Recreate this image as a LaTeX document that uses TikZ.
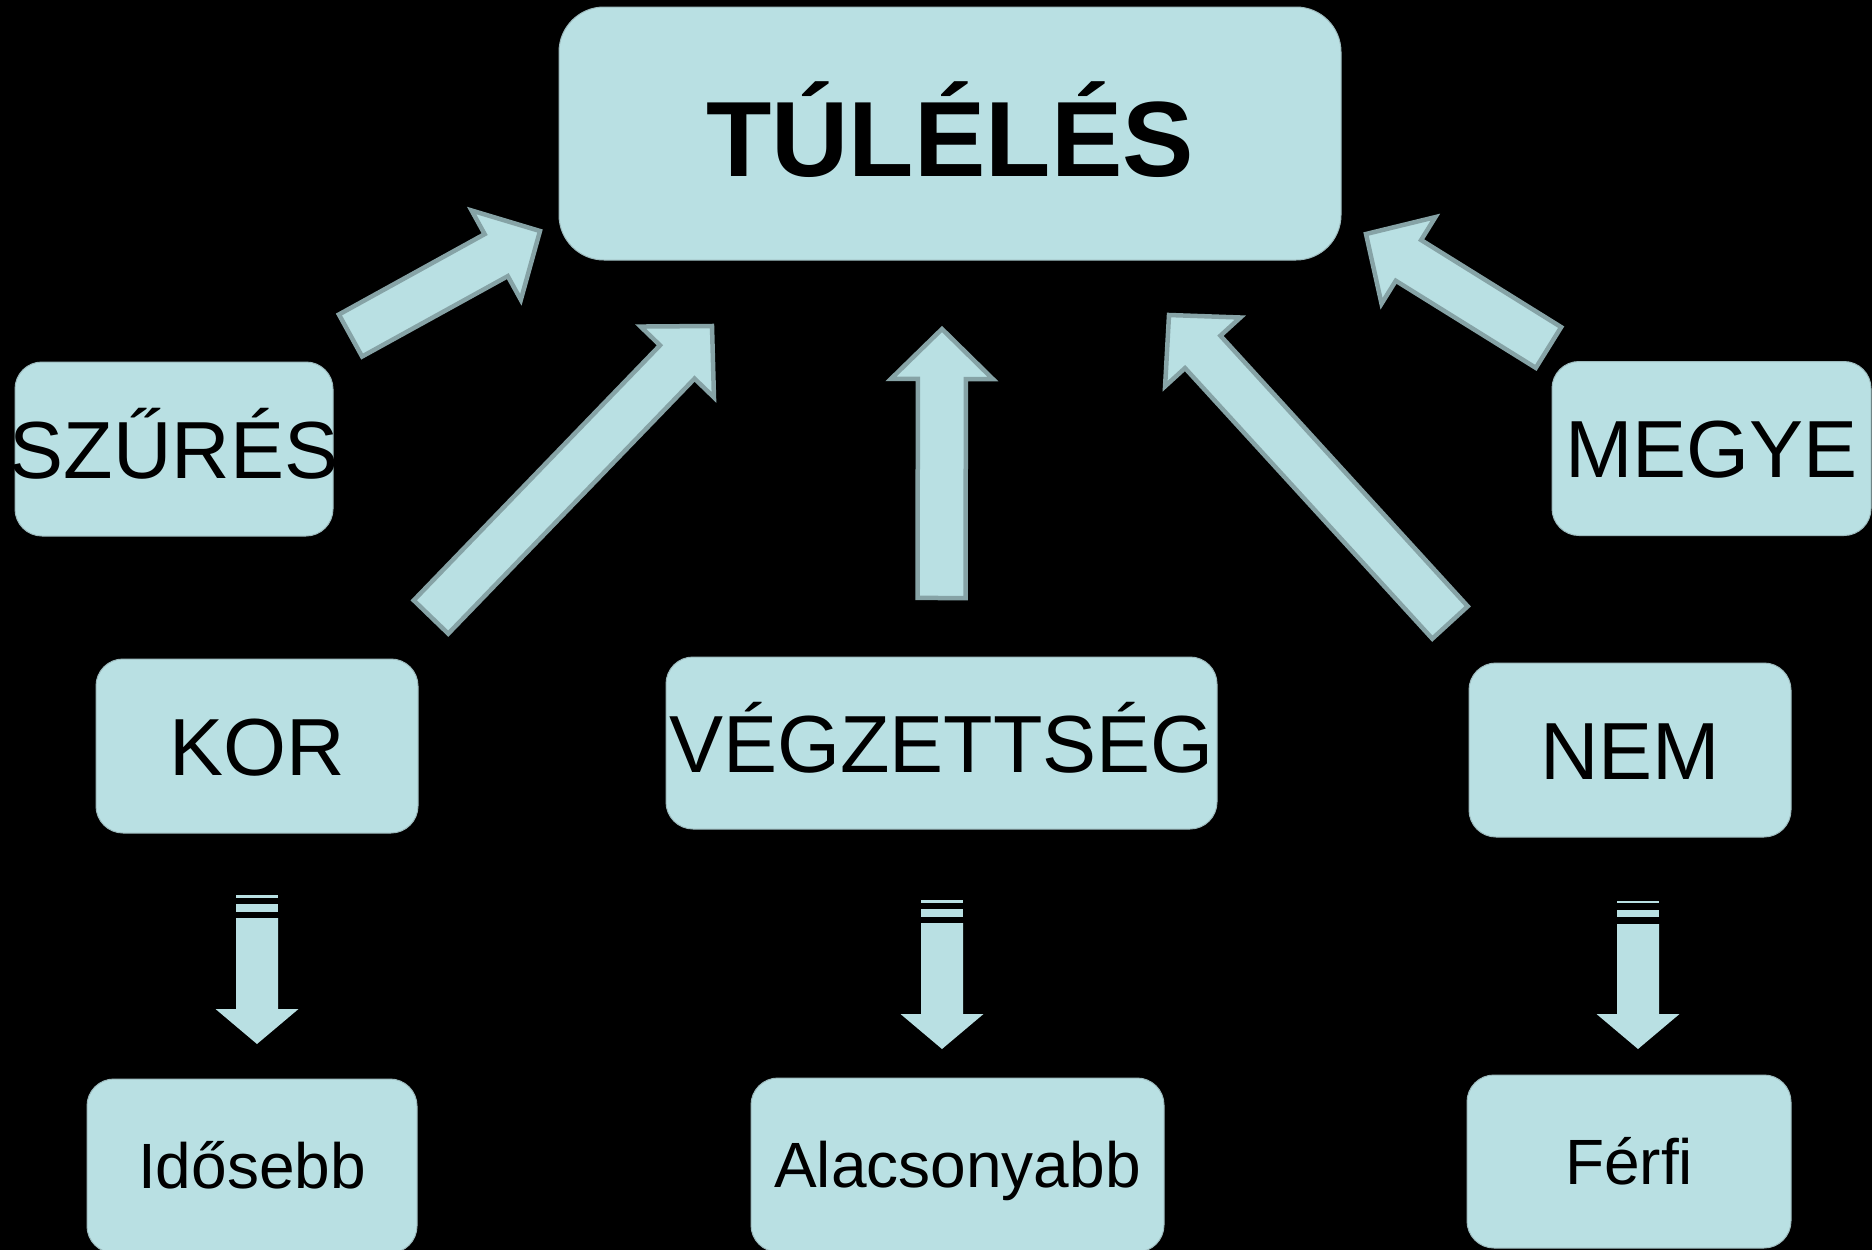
\documentclass[tikz,border=0pt]{standalone}
\usepackage{fontspec}
\setmainfont{Liberation Sans}
\usetikzlibrary{calc}
\definecolor{boxfill}{HTML}{B9E0E3}
\definecolor{arrline}{HTML}{86A3A6}
\definecolor{boxline}{HTML}{9DBBBE}
% #1 style, #2 start, #3 tip, #4 half shaft width, #5 half head width, #6 head length
\newcommand\blockarr[6]{%
  \coordinate (hb) at ($(#3)!#6pt!(#2)$);
  \draw[#1] ($(#2)!#4pt!90:(#3)$) -- ($(hb)!#4pt!90:(#3)$) -- ($(hb)!#5pt!90:(#3)$) -- (#3)
    -- ($(hb)!#5pt!-90:(#3)$) -- ($(hb)!#4pt!-90:(#3)$) -- ($(#2)!#4pt!-90:(#3)$) -- cycle;}
\begin{document}
\begin{tikzpicture}[x=1pt,y=-1pt,
  box/.style={draw=boxline, line width=1pt, fill=boxfill, rounded corners=27pt, inner sep=0pt,
    text depth=0pt, align=center},
  big/.style={font=\fontsize{81}{97}\selectfont, text height=58pt, minimum height=174pt},
  small/.style={font=\fontsize{64}{77}\selectfont, text height=45.8pt, minimum height=174pt},
  uparr/.style={fill=boxfill, draw=arrline, line width=4.5pt, line join=miter},
  downarr/.style={fill=boxfill, draw=none},
  stripe/.style={fill=boxfill, draw=none}]
\fill[black] (0,0) rectangle (1872,1250);
\useasboundingbox (0,0) rectangle (1872,1250);

% boxes
\node[box, rounded corners=45pt, minimum width=782pt, minimum height=253pt,
  font=\fontsize{107}{128}\selectfont\bfseries, text height=86.6pt] (t) at (950,133.5) {TÚLÉLÉS};
\node[box, big, minimum width=318pt] (sz) at (174,449) {\makebox[0pt][c]{SZŰRÉS}};
\node[box, big, minimum width=319pt] (me) at (1711.5,448.5) {\makebox[0pt][c]{MEGYE}};
\node[box, big, minimum width=322pt] (kor) at (257,746) {KOR};
\node[box, big, minimum width=551pt, minimum height=172pt] (veg) at (941.5,743) {\makebox[0pt][c]{VÉGZETTSÉG}};
\node[box, big, minimum width=322pt] (nem) at (1630,750) {NEM};
\node[box, small, minimum width=330pt] (ido) at (252,1166) {Idősebb};
\node[box, small, minimum width=413pt] (ala) at (957.5,1165) {Alacsonyabb};
\node[box, small, minimum width=324pt, minimum height=173pt] (fer) at (1629,1161.5) {Férfi};

% upward block arrows
\coordinate (a1s) at (350.5,335.5);  \coordinate (a1e) at (540,231);
\coordinate (a2s) at (431,617);      \coordinate (a2e) at (712,326);
\coordinate (a3s) at (941.5,598);    \coordinate (a3e) at (942,329);
\coordinate (a4s) at (1450,622.5);   \coordinate (a4e) at (1169,315);
\coordinate (a5s) at (1548.5,347.5); \coordinate (a5e) at (1366,234);
\blockarr{uparr}{a1s}{a1e}{24}{51}{50}
\blockarr{uparr}{a2s}{a2e}{24}{51}{50}
\blockarr{uparr}{a3s}{a3e}{24}{51}{50}
\blockarr{uparr}{a4s}{a4e}{24}{51}{50}
\blockarr{uparr}{a5s}{a5e}{24}{51}{50}

% downward striped arrows
\coordinate (d1s) at (257,918);  \coordinate (d1e) at (257,1044);
\coordinate (d2s) at (942,923);  \coordinate (d2e) at (942,1049);
\coordinate (d3s) at (1638,924); \coordinate (d3e) at (1638,1049);
\blockarr{downarr}{d1s}{d1e}{21}{41.5}{35}
\blockarr{downarr}{d2s}{d2e}{21}{41.5}{35}
\blockarr{downarr}{d3s}{d3e}{21}{41.5}{35}
\fill[stripe] (236,895) rectangle (278,898);
\fill[stripe] (236,904) rectangle (278,912);
\fill[stripe] (921,900) rectangle (963,903);
\fill[stripe] (921,909) rectangle (963,917);
\fill[stripe] (1617,900.7) rectangle (1659,903);
\fill[stripe] (1617,910) rectangle (1659,917);
\end{tikzpicture}
\end{document}
